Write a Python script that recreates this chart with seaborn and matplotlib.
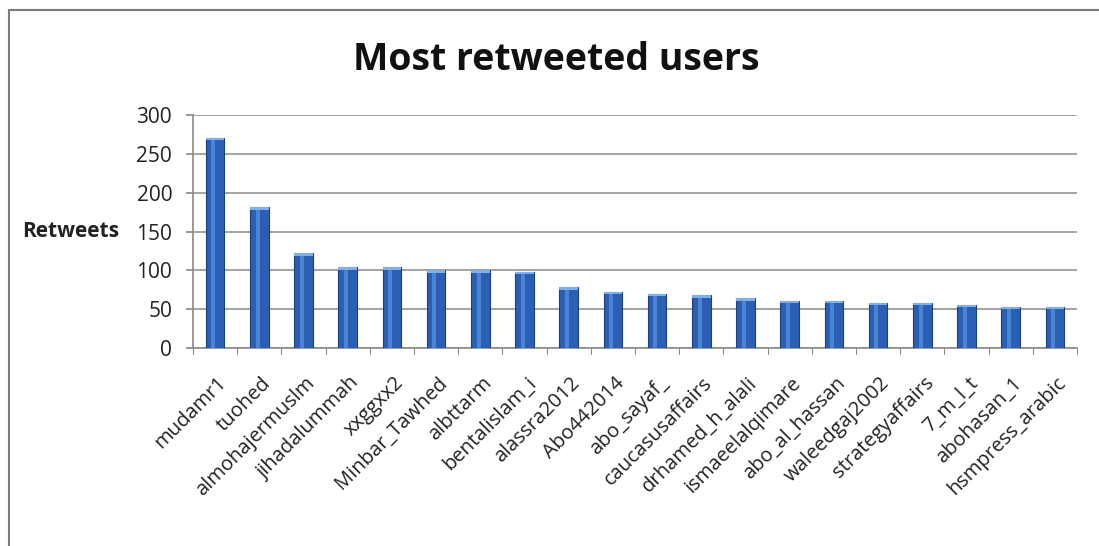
import numpy as np
import pandas as pd
import matplotlib.pyplot as plt
import seaborn as sns
from matplotlib.patches import Rectangle
from matplotlib.transforms import ScaledTranslation

users = ["mudamr1", "tuohed", "almohajermuslm", "jihadalummah", "xxggxx2",
         "Minbar_Tawhed", "albttarm", "bentalislam_i", "alassra2012", "Abo442014",
         "abo_sayaf_", "caucasusaffairs", "drhamed_h_alali", "ismaeelalqimare",
         "abo_al_hassan", "waleedgaj2002", "strategyaffairs", "7_m_l_t",
         "abohasan_1", "hsmpress_arabic"]
retweets = [271, 181, 122, 104, 104, 100, 100, 98, 78, 72,
            70, 68, 64, 61, 61, 58, 58, 56, 53, 53]
y_ticks = [0, 50, 100, 150, 200, 250, 300]

df = pd.DataFrame({"user": users, "retweets": retweets})

sns.set_theme(style="white")
plt.rcParams["font.family"] = ["Open Sans", "DejaVu Sans"]

fig = plt.figure(figsize=(10.99, 5.46), dpi=100)
ax = fig.add_axes([0.1756, 0.3626, 0.8044, 0.4268])

sns.barplot(data=df, x="user", y="retweets", color="#2a5fb4", width=0.42,
            saturation=1, edgecolor="#1d3f80", linewidth=0.8, ax=ax, zorder=3)

# light stripe on each bar for a rounded look
for p in ax.patches:
    x0, w, h = p.get_x(), p.get_width(), p.get_height()
    ax.add_patch(Rectangle((x0 + w * 0.3, 0), w * 0.22, h, color="#4a84d4",
                           lw=0, zorder=4))
    ax.add_patch(Rectangle((x0, h - 3), w, 3, color="#7fb0ea", lw=0, zorder=4))

ax.set_ylim(0, 300)
ax.set_xlim(-0.5, len(users) - 0.5)
ax.set_yticks(y_ticks)
ax.set_yticklabels([str(t) for t in y_ticks], fontsize=15, color="#222222")
ax.yaxis.grid(True, color="#8c8c8c", lw=1.1)
ax.set_axisbelow(True)

ax.set_xticks(range(len(users)))
ax.set_xticklabels(users, rotation=45, ha="right", rotation_mode="anchor",
                   fontsize=14.5, color="#222222")
ax.tick_params(axis="x", length=0, pad=18)
ax.tick_params(axis="y", length=5, color="#8c8c8c", left=True, pad=10)
shift = ScaledTranslation(1 / 72, 0, fig.dpi_scale_trans)
for lab in ax.get_xticklabels():
    lab.set_transform(lab.get_transform() + shift)

# tick marks between categories
for i in range(len(users) + 1):
    ax.plot([i - 0.5, i - 0.5], [0, -8], color="#8c8c8c", lw=0.8,
            clip_on=False)

for s in ["top", "right"]:
    ax.spines[s].set_visible(False)
for s in ["left", "bottom"]:
    ax.spines[s].set_color("#8c8c8c")

ax.set_xlabel("")
ax.set_ylabel("Retweets", rotation=0, fontsize=15, fontweight="bold",
              color="#222222", labelpad=0, ha="right", va="center")
ax.yaxis.set_label_coords(-0.083, 0.5)

fig.text(0.506, 0.89, "Most retweeted users", ha="center", va="center",
         fontsize=27, fontweight="bold", color="#111111")

fig.patches.append(Rectangle((9 / 1099, -0.1), 1.2, 1 - 10 / 546 + 0.1,
                             transform=fig.transFigure, fill=False,
                             edgecolor="#7a7a7a", lw=1.5))

fig.savefig("out.png", dpi=100)
